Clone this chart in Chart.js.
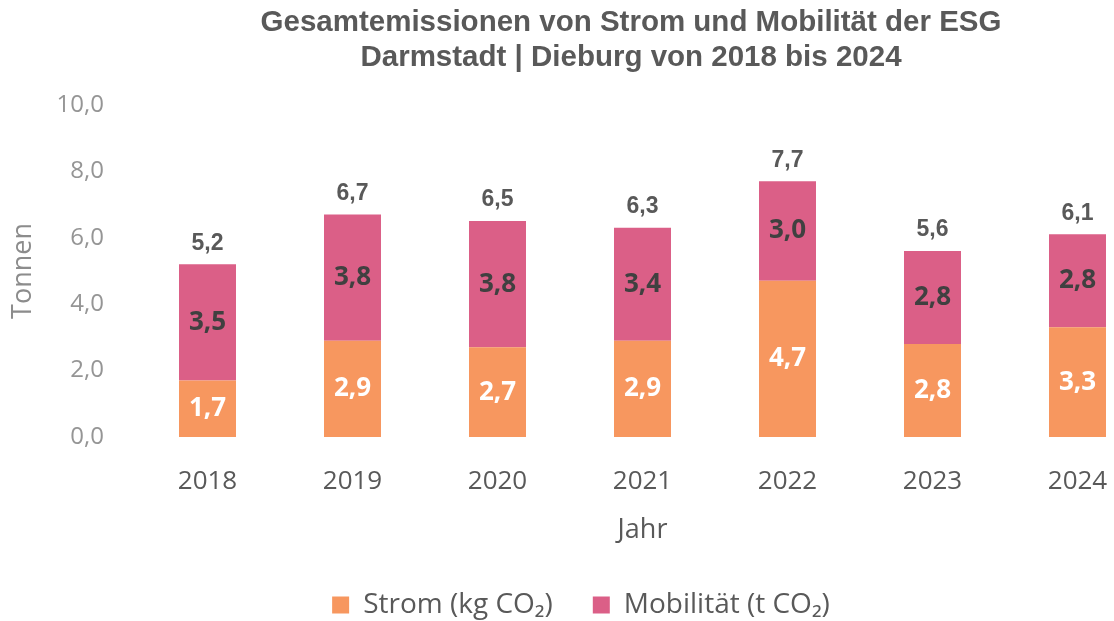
<!DOCTYPE html>
<html lang="de">
<head>
    <meta charset="UTF-8">
    <title>Gesamtemissionen ESG</title>
    <style>
        body {
            margin: 0;
            padding: 0;
            background-color: #fff;
            overflow: hidden;
        }

        #chart-box {
            width: 1150px;
            height: 621px;
        }
    </style>
    <script src="https://cdn.jsdelivr.net/npm/chart.js"></script>
</head>
<body>

<div id="chart-box">
    <canvas id="emissionChart"></canvas>
</div>

<script>
    const years = ['2018', '2019', '2020', '2021', '2022', '2023', '2024'];
    const strom = [1.7, 2.9, 2.7, 2.9, 4.7, 2.8, 3.3];
    const mobilitaet = [3.5, 3.8, 3.8, 3.4, 3.0, 2.8, 2.8];
    const yTicks = [0, 2, 4, 6, 8, 10];

    const orange = '#F7975F';
    const pink = '#DB5F87';

    function fmt(v) {
        return v.toFixed(1).replace('.', ',');
    }

    // labels inside the bars and the total above each stack
    const barLabels = {
        id: 'barLabels',
        afterDatasetsDraw(chart) {
            const ctx = chart.ctx;
            ctx.save();
            ctx.textAlign = 'center';
            ctx.textBaseline = 'middle';
            chart.data.datasets.forEach((ds, i) => {
                const meta = chart.getDatasetMeta(i);
                ctx.font = 'bold 26px "Open Sans"';
                ctx.fillStyle = i === 0 ? '#ffffff' : '#404040';
                meta.data.forEach((bar, j) => {
                    ctx.fillText(fmt(ds.data[j]), bar.x, (bar.y + bar.base) / 2);
                });
            });
            const top = chart.getDatasetMeta(1);
            ctx.font = 'bold 23px "Liberation Sans"';
            ctx.fillStyle = '#595959';
            top.data.forEach((bar, j) => {
                ctx.fillText(fmt(strom[j] + mobilitaet[j]), bar.x, bar.y - 21);
            });
            ctx.restore();
        }
    };

    // nudge title and legend to where they sit in the original
    const nudge = {
        id: 'nudge',
        afterLayout(chart) {
            const t = chart.titleBlock;
            t.left += 56;
            t.right += 56;
            const l = chart.legend;
            l.left += 6;
            l.right += 6;
            l.top += 8;
            l.bottom += 8;
        }
    };

    const ctx = document.getElementById('emissionChart').getContext('2d');
    new Chart(ctx, {
        type: 'bar',
        data: {
            labels: years,
            datasets: [
                { label: 'Strom (kg CO₂)', data: strom, backgroundColor: orange },
                { label: 'Mobilität (t CO₂)', data: mobilitaet, backgroundColor: pink }
            ]
        },
        options: {
            responsive: true,
            maintainAspectRatio: false,
            animation: false,
            datasets: {
                bar: { barPercentage: 0.393, categoryPercentage: 1 }
            },
            layout: { padding: 0 },
            plugins: {
                tooltip: { enabled: false },
                title: {
                    display: true,
                    text: ['Gesamtemissionen von Strom und Mobilität der ESG', 'Darmstadt | Dieburg von 2018 bis 2024'],
                    color: '#595959',
                    font: { family: 'Liberation Sans', size: 29.5, weight: 'bold', lineHeight: 1.2 },
                    padding: { top: 5, bottom: 29 }
                },
                legend: {
                    position: 'bottom',
                    labels: {
                        boxWidth: 17,
                        boxHeight: 17,
                        padding: 40,
                        color: '#595959',
                        font: { family: 'Open Sans', size: 28 }
                    }
                }
            },
            scales: {
                x: {
                    stacked: true,
                    grid: { display: false, drawTicks: false },
                    border: { display: false },
                    ticks: {
                        padding: 29,
                        color: '#595959',
                        font: { family: 'Open Sans', size: 26 }
                    },
                    title: {
                        display: true,
                        text: 'Jahr',
                        color: '#595959',
                        font: { family: 'Open Sans', size: 27 },
                        padding: { top: 0, bottom: -4 }
                    },
                    afterFit(scale) {
                        scale.height = 106;
                    }
                },
                y: {
                    stacked: true,
                    min: 0,
                    max: 10,
                    grid: { display: false, drawTicks: false },
                    border: { display: false },
                    afterBuildTicks(scale) {
                        scale.ticks = yTicks.map(v => ({ value: v }));
                    },
                    ticks: {
                        padding: 31,
                        color: '#959595',
                        font: { family: 'Open Sans', size: 24 },
                        callback: v => fmt(v)
                    },
                    title: {
                        display: true,
                        text: 'Tonnen',
                        color: '#8c8c8c',
                        font: { family: 'Open Sans', size: 27 },
                        padding: { top: 7, bottom: 0 }
                    },
                    afterFit(scale) {
                        scale.width = 135;
                    }
                }
            }
        },
        plugins: [barLabels, nudge]
    });
</script>
</body>
</html>
